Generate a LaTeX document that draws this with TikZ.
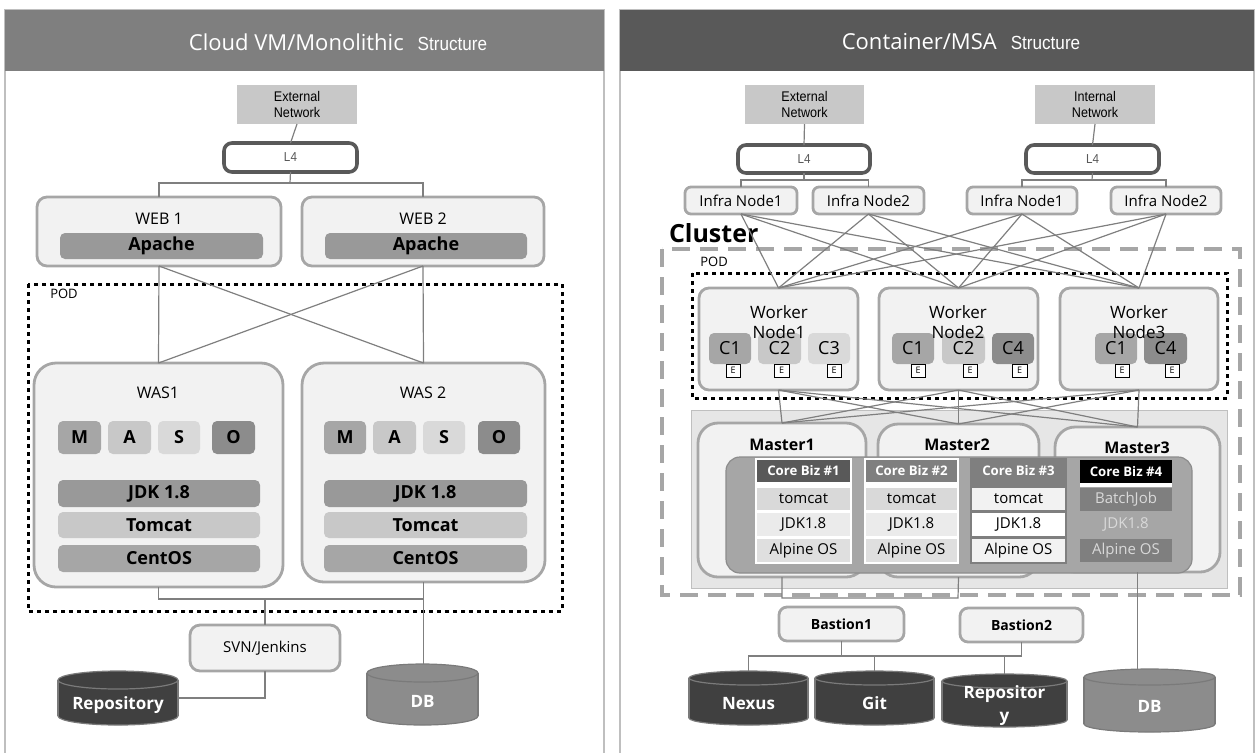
\documentclass[tikz,border=0pt]{standalone}
\usepackage{fontspec}
\setmainfont{Open Sans}
\newfontfamily\nar[FakeStretch=0.9]{Liberation Sans}
\usetikzlibrary{calc}
\definecolor{g59}{HTML}{595959}
\definecolor{g7f}{HTML}{7F7F7F}
\definecolor{g8c}{HTML}{8C8C8C}
\definecolor{g99}{HTML}{999999}
\definecolor{gA6}{HTML}{A6A6A6}
\definecolor{gBF}{HTML}{BFBFBF}
\definecolor{gC8}{HTML}{C8C8C8}
\definecolor{gD9}{HTML}{D9D9D9}
\definecolor{gDF}{HTML}{DFDFDF}
\definecolor{gE6}{HTML}{E6E6E6}
\definecolor{gEB}{HTML}{EBEBEB}
\definecolor{gF2}{HTML}{F2F2F2}
\definecolor{cylD}{HTML}{404040}
\definecolor{rim}{HTML}{7A7A7A}
\newcommand\fsz[2]{\fontsize{#1}{#2}\selectfont}
\tikzset{
 base/.style={inner sep=0pt, outer sep=0pt, align=center},
 title/.style={base, text=white, font=\fsz{11}{13}},
 net/.style={base, fill=gC8, font=\nar\fsz{7}{8}},
 lfour/.style={base, draw=g59, line width=1.8pt, fill=white, rounded corners=4pt, font=\nar\fsz{6.5}{7}, text=g59},
 srv/.style={base, draw=gA6, line width=1.4pt, fill=gF2, rounded corners=5pt},
 was/.style={srv, rounded corners=11pt},
 bar/.style={base, fill=#1, rounded corners=2.5pt, font=\bfseries\fsz{9}{10}},
 lbl/.style={base, font=\fsz{8}{9}},
 conn/.style={draw=g7f, line width=0.6pt},
 pod/.style={draw=black, line width=1.5pt, dash pattern=on 2pt off 2pt},
 clus/.style={draw=gA6, line width=1.8pt, dash pattern=on 9pt off 5pt},
 infra/.style={srv, rounded corners=3pt, font=\fsz{7.5}{9}},
 cbox/.style={base, fill=#1, rounded corners=2.5pt, font=\fsz{9}{10}},
 ebox/.style={base, draw=black, line width=0.4pt, fill=white, font=\fsz{4.5}{5}},
 cell/.style={base, fill=#1, font=\fsz{7.5}{9}},
 head/.style={base, fill=#1, text=white, font=\bfseries\fsz{6.6}{8}},
 cyltxt/.style={base, text=white, font=\bfseries\fsz{8.5}{11.5}},
}
% \bx{style}{name}{x1}{y1}{x2}{y2}{text}
\newcommand\bx[7]{\node[#1, minimum width={(#5-#3)*0.5pt}, minimum height={(#6-#4)*0.5pt}] (#2) at ({(#3+#5)/2},{(#4+#6)/2}) {#7};}
% \cyl{name}{x1}{y1}{x2}{y2}{ry}{fill}{text}
\newcommand\cyl[8]{%
 \pgfmathsetmacro\cx{(#2+#4)/2}%
 \pgfmathsetmacro\rx{(#4-#2)/4}%
 \pgfmathsetmacro\ry{#6*0.5}%
 \pgfmathsetmacro\ty{#3+#6}%
 \pgfmathsetmacro\by{#5-#6}%
 \pgfmathsetmacro\my{(#3+2*#6+#5)/2-2}%
 \filldraw[fill=#7, draw=rim, line width=0.6pt] (\cx,\by) ellipse [x radius=\rx pt, y radius=\ry pt];
 \fill[#7] (#2,\ty) rectangle (#4,\by);
 \draw[rim, line width=0.6pt] (#2,\ty) -- (#2,\by) (#4,\ty) -- (#4,\by);
 \filldraw[fill=#7, draw=rim, line width=0.6pt] (\cx,\ty) ellipse [x radius=\rx pt, y radius=\ry pt];
 \node[base, minimum width={(#4-#2)*0.5pt}, minimum height={(#5-#3)*0.5pt}] (#1) at (\cx,{(#3+#5)/2}) {};
 \node[cyltxt] (#1t) at (\cx,\my) {#8};
}
\begin{document}
\begin{tikzpicture}[x=0.5pt,y=-0.5pt]
\useasboundingbox (0,0) rectangle (1256,752);
\clip (0,0) rectangle (1256,752);
%================ LEFT PANEL
\draw[gBF, line width=0.6pt] (5,10) rectangle (604,790);
\fill[g7f] (5,10) rectangle (604,71);
\node[title] (tL) at (338,42) {Cloud VM/Monolithic\hspace{7pt}{\nar\fsz{9.5}{10}Structure}};
\bx{net}{extL}{237}{85}{357}{124}{External\\Network}
\bx{lfour}{l4L}{224}{143}{357}{172}{L4}
\coordinate (busL) at (290,183);
\draw[conn] (extL.south) -- (l4L.north);
\draw[conn] (l4L.south) -- (busL);
\bx{srv}{web1}{37}{197}{281}{266}{}
\bx{srv}{web2}{302}{197}{544}{266}{}
\draw[conn] (web1.north) |- (busL) -| (web2.north);
\node[lbl] (web1t) at (159,219) {WEB 1};
\node[lbl] (web2t) at (423,219) {WEB 2};
\bx{bar=g99}{ap1}{60}{233}{263}{259}{Apache}
\bx{bar=g99}{ap2}{325}{233}{527}{259}{Apache}
\draw[pod] (28,284) rectangle (562,611);
\node[base, font=\fsz{6.5}{7}] (podL) at (64,294) {POD};
\bx{was}{was1}{34}{363}{283}{587}{}
\bx{was}{was2}{302}{363}{545}{582}{}
\foreach \a in {web1,web2} \foreach \b in {was1,was2} \draw[conn] (\a.south) -- (\b.north);
\node[lbl] (was1t) at (158,393) {WAS1};
\node[lbl] (was2t) at (423,393) {WAS 2};
\bx{bar=gA6}{m1}{58}{421}{101}{454}{M}
\bx{bar=gC8}{a1}{108}{421}{151}{454}{A}
\bx{bar=gD9}{s1}{158}{421}{200}{454}{S}
\bx{bar=g8c}{o1}{212}{421}{255}{454}{O}
\bx{bar=gA6}{m2}{324}{421}{366}{454}{M}
\bx{bar=gC8}{a2}{373}{421}{416}{454}{A}
\bx{bar=gD9}{s2}{423}{421}{465}{454}{S}
\bx{bar=g8c}{o2}{478}{421}{520}{454}{O}
\bx{bar=g99}{jdk1}{58}{480}{260}{507}{JDK 1.8}
\bx{bar=gC8}{tc1}{58}{512}{260}{538}{Tomcat}
\bx{bar=gA6}{os1}{58}{545}{260}{572}{CentOS}
\bx{bar=g99}{jdk2}{324}{480}{527}{507}{JDK 1.8}
\bx{bar=gC8}{tc2}{324}{512}{527}{538}{Tomcat}
\bx{bar=gA6}{os2}{324}{545}{527}{572}{CentOS}
\bx{srv}{svn}{190}{625}{340}{671}{\fsz{7.5}{9}SVN/Jenkins}
\cyl{repo}{58}{671}{178}{725}{9}{cylD}{Repository}
\cyl{dbL}{367}{664}{478}{725}{9}{g8c}{DB}
\coordinate (busB) at (265,599);
\draw[conn] (was1.south) |- (busB) -| (was2.south);
\draw[conn] (busB) -- (svn.north);
\draw[conn] (was2.south) -- (was2.south |- dbL.north);
\draw[conn] (svn.south) |- (repo.east);
%================ RIGHT PANEL
\draw[gBF, line width=0.6pt] (620,10) rectangle (1254,790);
\fill[g59] (620,10) rectangle (1254,71);
\node[title] (tR) at (961,42) {Container/MSA\hspace{7pt}{\nar\fsz{9.5}{10}Structure}};
\bx{net}{extR}{745}{85}{864}{124}{External\\Network}
\bx{net}{intR}{1035}{85}{1155}{124}{Internal\\Network}
\bx{lfour}{l4a}{738}{145}{870}{173}{L4}
\bx{lfour}{l4b}{1026}{145}{1159}{173}{L4}
\draw[conn] (extR.south) -- (l4a.north);
\draw[conn] (intR.south) -- (l4b.north);
\bx{infra}{inf1}{685}{187}{797}{214}{Infra Node1}
\bx{infra}{inf2}{813}{187}{924}{214}{Infra Node2}
\bx{infra}{inf3}{967}{187}{1077}{214}{Infra Node1}
\bx{infra}{inf4}{1111}{187}{1221}{214}{Infra Node2}
\coordinate (busA) at (804,180);
\coordinate (busC) at (1092,180);
\draw[conn] (l4a.south) -- (busA);
\draw[conn] (l4b.south) -- (busC);
\draw[conn] (inf1.north) |- (busA) -| (inf2.north);
\draw[conn] (inf3.north) |- (busC) -| (inf4.north);
\node[base, anchor=base west, font=\bfseries\fsz{12.5}{14}] (clu) at (669,242) {Cluster};
\draw[clus] (662,249) rectangle (1240,595);
\node[base, font=\fsz{6.5}{7}] (podR) at (714,262) {POD};
\draw[pod] (692,273) rectangle (1227,398);
\bx{srv}{w1}{699}{288}{858}{390}{}
\bx{srv}{w2}{879}{288}{1038}{390}{}
\bx{srv}{w3}{1060}{288}{1218}{390}{}
\foreach \i in {inf1,inf2,inf3,inf4} \foreach \w in {w1,w2,w3} \draw[conn] (\i.south) -- (\w.north);
\bx{cbox=gA6}{w1c1}{709}{333}{751}{364}{C1}
\bx{cbox=gC8}{w1c2}{758}{333}{801}{364}{C2}
\bx{cbox=gD9}{w1c3}{808}{333}{850}{364}{C3}
\bx{cbox=gA6}{w2c1}{892}{333}{934}{364}{C1}
\bx{cbox=gC8}{w2c2}{942}{333}{985}{364}{C2}
\bx{cbox=g8c}{w2c4}{992}{333}{1034}{364}{C4}
\bx{cbox=gA6}{w3c1}{1095}{333}{1137}{364}{C1}
\bx{cbox=g8c}{w3c4}{1144}{333}{1187}{364}{C4}
\bx{ebox}{e11}{726}{364}{740}{377}{E}
\bx{ebox}{e12}{774}{364}{789}{377}{E}
\bx{ebox}{e13}{827}{364}{841}{377}{E}
\bx{ebox}{e21}{911}{364}{925}{377}{E}
\bx{ebox}{e22}{963}{364}{977}{377}{E}
\bx{ebox}{e23}{1012}{364}{1027}{377}{E}
\bx{ebox}{e31}{1115}{364}{1129}{377}{E}
\bx{ebox}{e32}{1165}{364}{1179}{377}{E}
\node[base, font=\fsz{8.5}{10}] (w1t) at (779,322) {Worker\\Node1};
\node[base, font=\fsz{8.5}{10}] (w2t) at (958,322) {Worker\\Node2};
\node[base, font=\fsz{8.5}{10}] (w3t) at (1139,322) {Worker\\Node3};
\bx{base, fill=gE6, draw=gBF, line width=0.5pt}{mbg}{691}{410}{1227}{588}{}
\bx{srv, rounded corners=10pt}{ms1}{698}{423}{866}{577}{}
\bx{srv, rounded corners=10pt}{ms2}{878}{424}{1039}{577}{}
\bx{srv, rounded corners=10pt}{ms3}{1055}{427}{1220}{572}{}
\foreach \w in {w1,w2,w3} \foreach \m in {ms1,ms2,ms3} \draw[conn] (\w.south) -- (\m.north);
\node[base, font=\bfseries\fsz{8}{9}] (ms1t) at (782,445) {Master1};
\node[base, font=\bfseries\fsz{8}{9}] (ms2t) at (957,445) {Master2};
\node[base, font=\bfseries\fsz{8}{9}] (ms3t) at (1137,448) {Master3};
\bx{base, fill=gA6, draw=g8c, line width=0.6pt, rounded corners=7pt}{dark}{726}{457}{1192}{573}{}
% columns
\bx{base, fill=white}{c1f}{755}{458}{852}{564}{}
\bx{base, fill=white}{c2f}{864}{458}{959}{564}{}
\bx{base, fill=g7f}{c3f}{970}{458}{1067}{564}{}
\bx{head=g59}{h1}{757}{460}{850}{482}{Core Biz \#1}
\bx{head=g7f}{h2}{866}{460}{957}{482}{Core Biz \#2}
\bx{head=g7f}{h3}{972}{460}{1065}{482}{Core Biz \#3}
\bx{head=black}{h4}{1080}{460}{1172}{483}{Core Biz \#4}
\fill[white] (1080,483) rectangle (1172,487);
\bx{cell=gD9}{t1}{757}{488}{850}{510}{tomcat}
\bx{cell=gEB}{j1}{757}{513}{850}{536}{JDK1.8}
\bx{cell=gDF}{a1}{757}{539}{850}{562}{Alpine OS}
\bx{cell=gD9}{t2}{866}{488}{957}{510}{tomcat}
\bx{cell=gEB}{j2}{866}{513}{957}{536}{JDK1.8}
\bx{cell=gDF}{a2}{866}{539}{957}{562}{Alpine OS}
\bx{cell=gF2}{t3}{972}{488}{1065}{510}{tomcat}
\bx{cell=white}{j3}{972}{513}{1065}{536}{JDK1.8}
\bx{cell=gF2}{a3}{972}{539}{1065}{562}{Alpine OS}
\bx{cell=g7f, text=gD9}{t4}{1080}{488}{1172}{511}{BatchJob}
\bx{cell=gA6, text=gD9}{j4}{1080}{513}{1172}{536}{JDK1.8}
\bx{cell=g7f, text=gD9}{a4}{1080}{539}{1172}{562}{Alpine OS}
% bottom right
\coordinate (busM) at (958,598);
\draw[conn] (ms1.south) |- (busM) -- (ms2.south);
\bx{srv, rounded corners=4pt, font=\bfseries\fsz{7}{8}}{b1}{779}{607}{904}{641}{Bastion1}
\bx{srv, rounded corners=4pt, font=\bfseries\fsz{7}{8}}{b2}{960}{608}{1083}{642}{Bastion2}
\cyl{nexus}{689}{671}{808}{725}{7}{cylD}{Nexus}
\cyl{git}{815}{671}{934}{725}{7}{cylD}{Git}
\cyl{repoR}{942}{674}{1067}{727}{7}{cylD}{Repositor\\y}
\cyl{dbR}{1084}{669}{1215}{732}{8}{g8c}{DB}
\draw[conn] (ms3.south) -- (ms3.south |- dbR.north);
\coordinate (busN) at (900,656);
\draw[conn] (nexus.north) |- (busN) -| (b2.south);
\draw[conn] (git.north) -- (git.north |- busN);
\draw[conn] (repoR.north) -- (repoR.north |- busN);
\draw[conn] (b1.south) -- (b1.south |- busN);
\end{tikzpicture}
\end{document}
